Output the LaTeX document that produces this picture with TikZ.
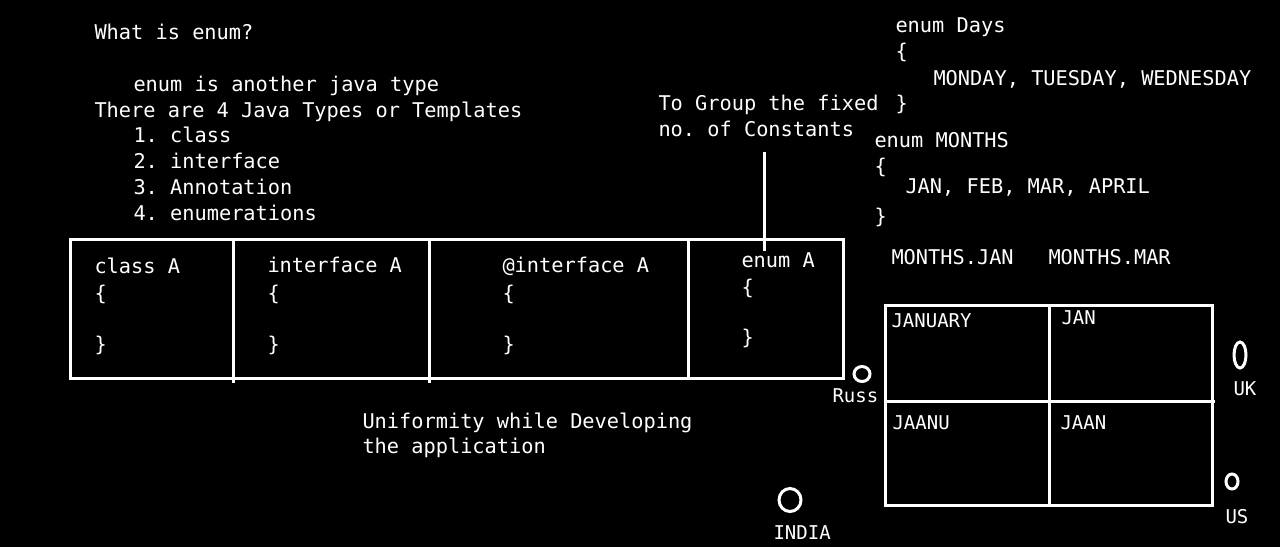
\documentclass[tikz,border=0pt]{standalone}
\usepackage{fontspec}
\setmonofont{DejaVu Sans Mono}
\usetikzlibrary{shapes.geometric}
\newcommand{\codefont}{\ttfamily\fontsize{20.3}{26}\selectfont}
\newcommand{\tagfont}{\ttfamily\fontsize{19}{23}\selectfont}

\begin{document}
\begin{tikzpicture}[x=1pt, y=-1pt, line width=3pt, white,
    code/.style={anchor=base west, inner sep=0pt, text=white, font=\codefont},
    tag/.style={anchor=base west, inner sep=0pt, text=white, font=\tagfont},
    ring/.style={ellipse, draw=white, inner sep=0pt}]
    \fill[black] (0,0) rectangle (1280,547);
    \useasboundingbox (0,0) rectangle (1280,547);

    % Question and the four types
    \node[code] (question) at (93,39) {What is enum?};
    \node[code] (definition) at (132,91) {enum is another java type};
    \node[code] (types) at (93,117) {There are 4 Java Types or Templates};
    \node[code] (type1) at (132,142) {1. class};
    \node[code] (type2) at (132,168) {2. interface};
    \node[code] (type3) at (132,194) {3. Annotation};
    \node[code] (type4) at (132,220) {4. enumerations};

    % Table of templates
    \draw (70,239) rectangle (843,378);
    \draw (233,241) -- (233,383);
    \draw (429,241) -- (429,383);
    \draw (688,239) -- (688,378);

    \node[code] (classA) at (93,273) {class A};
    \node[code] (classOpen) at (93,300) {\{};
    \node[code] (classClose) at (93,351) {\}};
    \node[code] (ifaceA) at (266,272) {interface A};
    \node[code] (ifaceOpen) at (266,300) {\{};
    \node[code] (ifaceClose) at (266,351) {\}};
    \node[code] (annoA) at (501,272) {@interface A};
    \node[code] (annoOpen) at (501,300) {\{};
    \node[code] (annoClose) at (501,351) {\}};
    \node[code] (enumA) at (740,267) {enum A};
    \node[code] (enumOpen) at (740,294) {\{};
    \node[code] (enumClose) at (740,344) {\}};

    \node[code] (uniform1) at (361,428) {Uniformity while Developing};
    \node[code] (uniform2) at (361,453) {the application};

    % Purpose of enum
    \node[code] (group1) at (657,110) {To Group the fixed};
    \node[code] (group2) at (657,136) {no. of Constants};
    \coordinate (grouptail) at (764,152);
    \draw (grouptail) -- (enumA.north -| grouptail);

    % Example enums
    \node[code] (days) at (894,32) {enum Days};
    \node[code] (daysOpen) at (894,58) {\{};
    \node[code] (daysBody) at (932,85) {MONDAY, TUESDAY, WEDNESDAY};
    \node[code] (daysClose) at (894,110) {\}};
    \node[code] (months) at (873,147) {enum MONTHS};
    \node[code] (monthsOpen) at (873,173) {\{};
    \node[code] (monthsBody) at (904,193) {JAN, FEB, MAR, APRIL};
    \node[code] (monthsClose) at (873,223) {\}};
    \node[code] (useJan) at (890,264) {MONTHS.JAN};
    \node[code] (useMar) at (1047,264) {MONTHS.MAR};

    % Names per country
    \draw (885,305) rectangle (1212,505);
    \draw (1049,305) -- (1049,505);
    \draw (885,401) -- (1215,401);
    \node[tag] (january) at (890,327) {JANUARY};
    \node[tag] (jan) at (1060,324) {JAN};
    \node[tag] (jaanu) at (891,429) {JAANU};
    \node[tag] (jaan) at (1059,429) {JAAN};

    \node[ring, minimum width=16pt, minimum height=15pt] (russRing) at (862,374) {};
    \node[ring, minimum width=12pt, minimum height=26pt] (ukRing) at (1240,355) {};
    \node[ring, minimum width=12pt, minimum height=15pt] (usRing) at (1232,481.5) {};
    \node[ring, minimum width=22pt, minimum height=23pt] (indiaRing) at (790,500) {};
    \node[tag] (russ) at (831,402) {Russ};
    \node[tag] (uk) at (1232,395) {UK};
    \node[tag] (us) at (1224,523) {US};
    \node[tag] (india) at (772,539) {INDIA};
\end{tikzpicture}
\end{document}
